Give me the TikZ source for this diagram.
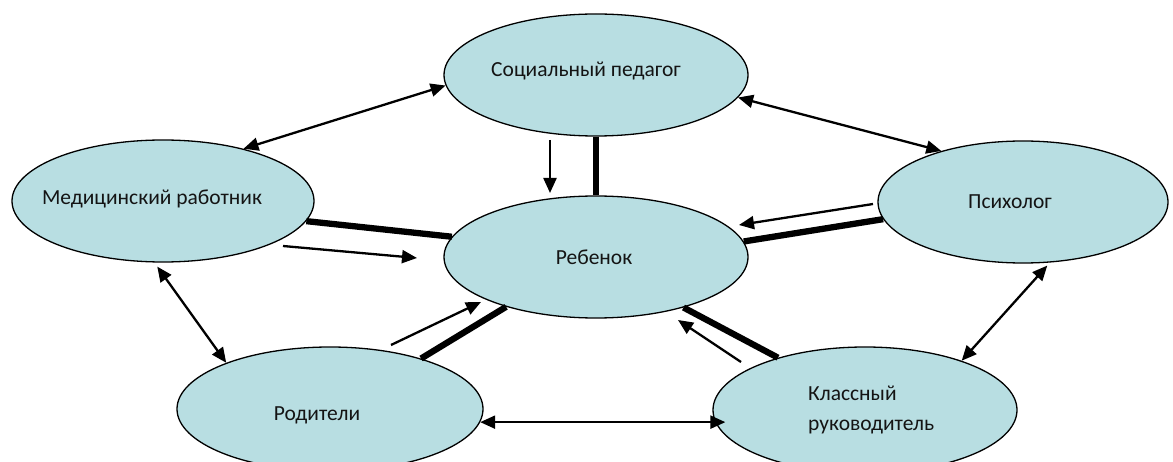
\documentclass[tikz,border=0pt]{standalone}
\usepackage{fontspec}
\setmainfont{Carlito}
\usetikzlibrary{shapes.geometric,arrows.meta}
\definecolor{bub}{RGB}{184,222,226}
\definecolor{ink}{RGB}{20,20,20}
\tikzset{
  bubble/.style={ellipse, draw=black, line width=1.3pt, fill=bub, inner sep=0pt},
  lbl/.style={font=\fontsize{21.5}{30}\selectfont, inner sep=0pt, text=ink},
  dbl/.style={line width=2.3pt, {Triangle[length=15pt,width=13pt]}-{Triangle[length=15pt,width=13pt]}},
  onearrow/.style={line width=2.3pt, -{Triangle[length=15pt,width=13pt]}},
  heavy/.style={line width=6.3pt},
}
\begin{document}
\begin{tikzpicture}[x=1pt,y=-1pt]
\clip (0,0) rectangle (1173,462);
\fill[white] (0,0) rectangle (1173,462);
% ellipses
\node[bubble, minimum width=304pt, minimum height=122pt] (soc) at (596,75) {};
\node[bubble, minimum width=302pt, minimum height=122pt] (med) at (163,201) {};
\node[bubble, minimum width=290pt, minimum height=122pt] (psy) at (1023,202) {};
\node[bubble, minimum width=304pt, minimum height=122pt] (chi) at (596,257) {};
\node[bubble, minimum width=306pt, minimum height=124pt] (rod) at (330,409) {};
\node[bubble, minimum width=304pt, minimum height=126pt] (cls) at (865,410) {};
% labels
\node[lbl] (tsoc) at (586,71) {Социальный педагог};
\node[lbl] (tmed) at (152,199) {Медицинский работник};
\node[lbl] (tchi) at (594,257) {Ребенок};
\node[lbl] (tpsy) at (1010,202) {Психолог};
\node[lbl] (trod) at (317,415) {Родители};
\node[lbl, anchor=west, align=left] (tcls) at (808,410) {Классный\\руководитель};
% free ends of thin arrows
\coordinate (a1s) at (550,140); \coordinate (a1e) at (550,193);
\coordinate (a2s) at (283,246); \coordinate (a2e) at (417,258);
\coordinate (a3s) at (873,204); \coordinate (a3e) at (739,225);
\coordinate (a4s) at (391,345); \coordinate (a4e) at (481,302);
\coordinate (a5s) at (741,362); \coordinate (a5e) at (678,320);
% heavy links
\draw[heavy] (soc.south) -- (chi.north);
\draw[heavy] (med.352.3) -- (chi.172.5);
\draw[heavy] (psy.187.5) -- (chi.6.7);
\draw[heavy] (rod.29.7) -- (chi.209.8);
\draw[heavy] (cls.149.2) -- (chi.330.5);
% thin arrows to the child
\draw[onearrow] (a1s) -- (a1e);
\draw[onearrow] (a2s) -- (a2e);
\draw[onearrow] (a3s) -- (a3e);
\draw[onearrow] (a4s) -- (a4e);
\draw[onearrow] (a5s) -- (a5e);
% double arrows round the ring
\draw[dbl] (soc.184.7) -- (med.33);
\draw[dbl] (soc.351.4) -- (psy.148.1);
\draw[dbl, shorten <=5pt] (med.262.5) -- (rod.156.9);
\draw[dbl, shorten <=4pt] (psy.294) -- (cls.27);
\draw[dbl, shorten >=-13pt] (rod.355.1) -- (rod.355.1 -| cls.west);
\end{tikzpicture}
\end{document}
